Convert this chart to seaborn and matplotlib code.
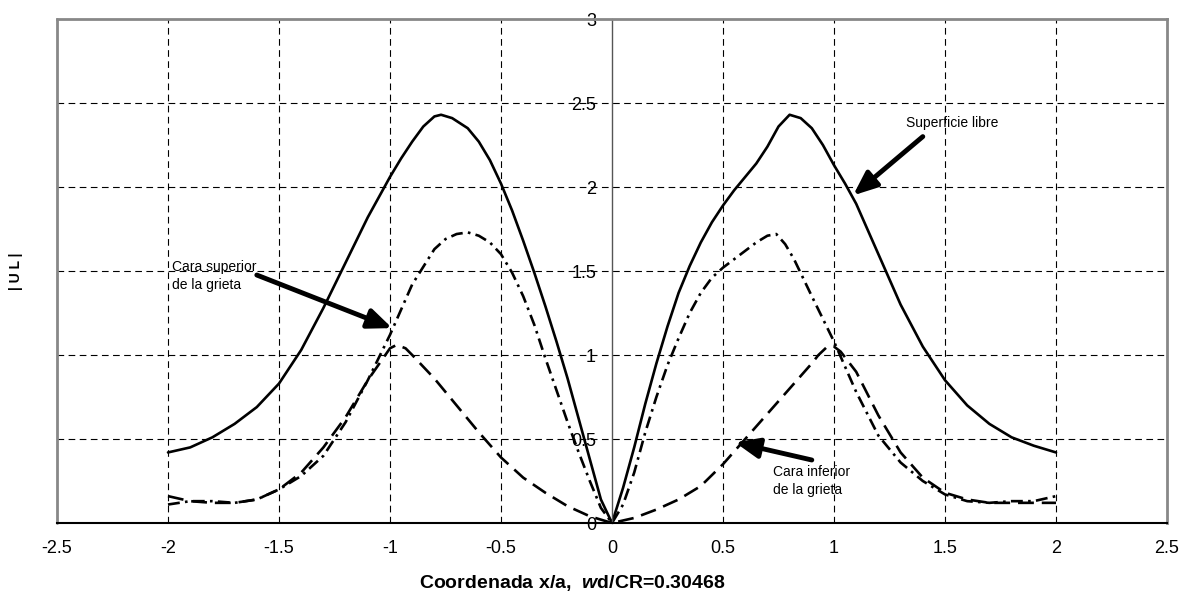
import numpy as np
import pandas as pd
import seaborn as sns
import matplotlib.pyplot as plt

# |UL| curves
libre_x = [-2.0, -1.9, -1.8, -1.7, -1.6, -1.5, -1.4, -1.3, -1.2, -1.1, -1.0, -0.95, -0.9,
           -0.85, -0.8, -0.77, -0.72, -0.65, -0.6, -0.55, -0.5, -0.45, -0.4, -0.35, -0.3,
           -0.25, -0.2, -0.15, -0.1, -0.05, 0.0, 0.05, 0.1, 0.15, 0.2, 0.25, 0.3, 0.35,
           0.4, 0.45, 0.5, 0.55, 0.6, 0.65, 0.7, 0.75, 0.8, 0.85, 0.9, 0.95, 1.0, 1.05,
           1.1, 1.2, 1.3, 1.4, 1.5, 1.6, 1.7, 1.8, 1.9, 2.0]
libre_y = [0.42, 0.45, 0.51, 0.59, 0.69, 0.83, 1.03, 1.28, 1.55, 1.82, 2.06, 2.17, 2.27,
           2.36, 2.42, 2.43, 2.41, 2.35, 2.27, 2.16, 2.02, 1.86, 1.68, 1.49, 1.29,
           1.08, 0.86, 0.62, 0.38, 0.14, 0.0, 0.21, 0.45, 0.71, 0.95, 1.17, 1.37, 1.53,
           1.67, 1.79, 1.89, 1.98, 2.06, 2.14, 2.24, 2.36, 2.43, 2.41, 2.35, 2.25, 2.13,
           2.02, 1.90, 1.60, 1.30, 1.05, 0.85, 0.70, 0.59, 0.51, 0.46, 0.42]

superior_x = [-2.0, -1.9, -1.8, -1.7, -1.6, -1.5, -1.4, -1.3, -1.2, -1.1, -1.0, -0.9, -0.8,
              -0.75, -0.7, -0.65, -0.6, -0.55, -0.5, -0.45, -0.4, -0.35, -0.3, -0.25, -0.2,
              -0.15, -0.1, -0.05, 0.0, 0.05, 0.1, 0.15, 0.2, 0.25, 0.3, 0.35, 0.4, 0.45,
              0.5, 0.55, 0.6, 0.65, 0.7, 0.74, 0.78, 0.82, 0.9, 1.0, 1.1, 1.2, 1.3, 1.4,
              1.5, 1.6, 1.7, 1.8, 1.9, 2.0]
superior_y = [0.11, 0.13, 0.13, 0.12, 0.14, 0.20, 0.28, 0.40, 0.60, 0.85, 1.12, 1.42, 1.63,
              1.69, 1.72, 1.73, 1.71, 1.67, 1.60, 1.49, 1.35, 1.18, 0.98, 0.79, 0.60,
              0.42, 0.25, 0.09, 0.0, 0.11, 0.30, 0.54, 0.75, 0.94, 1.10, 1.25, 1.37, 1.46,
              1.52, 1.57, 1.62, 1.67, 1.71, 1.72, 1.66, 1.57, 1.35, 1.08, 0.78, 0.52, 0.36,
              0.25, 0.17, 0.13, 0.12, 0.13, 0.13, 0.16]

inferior_x = [-2.0, -1.9, -1.8, -1.7, -1.6, -1.5, -1.4, -1.3, -1.2, -1.1, -1.0, -0.97,
              -0.93, -0.9, -0.8, -0.7, -0.6, -0.5, -0.4, -0.3, -0.2, -0.1, 0.0, 0.1, 0.2,
              0.3, 0.4, 0.5, 0.6, 0.7, 0.8, 0.9, 0.93, 0.97, 1.0, 1.03, 1.1, 1.2, 1.3, 1.4,
              1.5, 1.6, 1.7, 1.8, 1.9, 2.0]
inferior_y = [0.16, 0.13, 0.12, 0.12, 0.14, 0.20, 0.30, 0.45, 0.63, 0.85, 1.04, 1.06,
              1.04, 1.00, 0.86, 0.70, 0.54, 0.39, 0.27, 0.18, 0.10, 0.04, 0.0, 0.03, 0.08,
              0.14, 0.22, 0.35, 0.50, 0.65, 0.80, 0.95, 1.00, 1.05, 1.05, 1.02, 0.90, 0.64,
              0.42, 0.27, 0.18, 0.14, 0.12, 0.12, 0.12, 0.12]

x_ticks = [-2.5, -2, -1.5, -1, -0.5, 0, 0.5, 1, 1.5, 2, 2.5]
x_labels = ["-2.5", "-2", "-1.5", "-1", "-0.5", "0", "0.5", "1", "1.5", "2", "2.5"]
y_ticks = [0, 0.5, 1, 1.5, 2, 2.5, 3]
y_labels = ["0", "0.5", "1", "1.5", "2", "2.5", "3"]

sns.set_theme(style="white")
plt.rcParams['font.family'] = ['Liberation Sans', 'DejaVu Sans']
plt.rcParams['mathtext.fontset'] = 'custom'
plt.rcParams['mathtext.it'] = 'Liberation Sans:italic:bold'
plt.rcParams['text.color'] = 'black'
plt.rcParams['axes.labelcolor'] = 'black'

fig = plt.figure(figsize=(11.88, 6.08), dpi=100)
ax = fig.add_axes([57 / 1188, 85 / 608, 1110 / 1188, 504 / 608])

curves = [
    (libre_x, libre_y, '-'),
    (superior_x, superior_y, (0, (4.5, 2, 1, 2))),
    (inferior_x, inferior_y, (0, (6, 3))),
]
for xs, ys, ls in curves:
    df = pd.DataFrame({'x': xs, 'y': ys})
    sns.lineplot(data=df, x='x', y='y', sort=False, estimator=None, ax=ax,
                 color='black', linewidth=1.9, linestyle=ls)

ax.set_xlim(-2.5, 2.5)
ax.set_ylim(0, 3)

# dashed grid
for xv in x_ticks[1:-1]:
    if xv != 0:
        ax.axvline(xv, color='black', lw=0.8, ls=(0, (6, 4)), zorder=0)
for yv in y_ticks[1:-1]:
    ax.axhline(yv, color='black', lw=0.8, ls=(0, (6, 4)), zorder=0)

# y axis at x=0, grey plot-area border elsewhere
ax.spines['left'].set_position(('data', 0))
ax.spines['left'].set_color('#555555')
ax.spines['left'].set_linewidth(1.0)
for s in ['top', 'right']:
    ax.spines[s].set_color('#888888')
    ax.spines[s].set_linewidth(2.0)
ax.spines['bottom'].set_color('black')
ax.spines['bottom'].set_linewidth(1.5)
ax.axvline(-2.5, color='#888888', lw=2.0, clip_on=False)

ax.set_xticks(x_ticks, x_labels)
ax.set_yticks(y_ticks, y_labels)
ax.tick_params(axis='x', direction='out', length=6, width=1, color='black',
               labelcolor='black', labelsize=13, pad=6)
ax.tick_params(axis='y', direction='inout', length=7, width=1, color='#555555',
               labelcolor='black', labelsize=13, pad=8)

ax.set_xlabel(r"Coordenada x/a,  $\mathit{w}$d/CR=0.30468", fontsize=14,
              fontweight='bold', va='center')
ax.xaxis.set_label_coords(0.464, -0.119)
ax.set_ylabel("| U L |", fontsize=10, fontweight='bold')
ax.yaxis.set_label_coords(-0.031, 0.5)

arrow = dict(arrowstyle='-|>,head_length=1.2,head_width=0.5', color='black', lw=3.5,
             shrinkA=0, shrinkB=0)
ax.annotate("", xy=(1.086, 1.95), xytext=(1.40, 2.30), arrowprops=arrow)
ax.text(1.324, 2.38, "Superficie libre", fontsize=10, ha='left', va='center')
ax.annotate("", xy=(-0.99, 1.16), xytext=(-1.60, 1.476), arrowprops=arrow)
ax.text(-1.98, 1.47, "Cara superior\nde la grieta", fontsize=10, ha='left', va='center',
        linespacing=1.3)
ax.annotate("", xy=(0.554, 0.48), xytext=(0.90, 0.375), arrowprops=arrow)
ax.text(0.725, 0.25, "Cara inferior\nde la grieta", fontsize=10, ha='left', va='center',
        linespacing=1.3)

fig.savefig("out.png", dpi=100)
